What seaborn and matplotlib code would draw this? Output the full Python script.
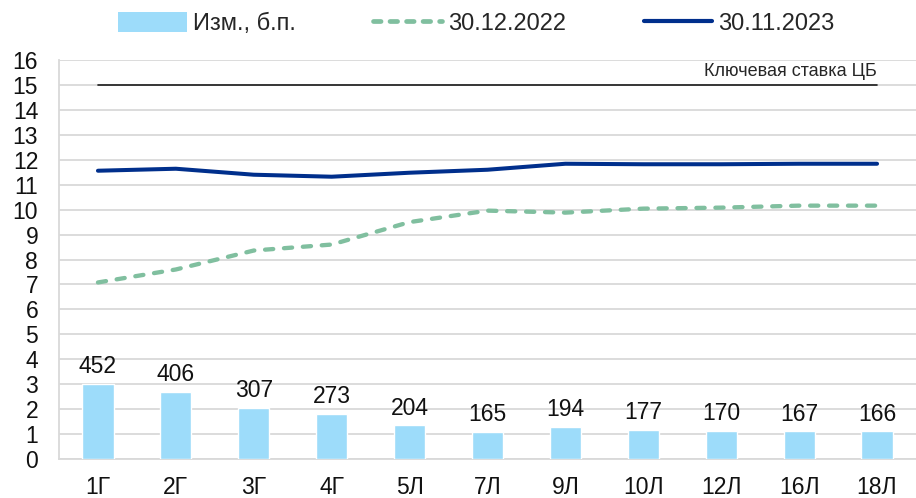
import numpy as np
import pandas as pd
import matplotlib
matplotlib.use("Agg")
import matplotlib.pyplot as plt
from matplotlib.patches import Patch
from matplotlib.lines import Line2D
import seaborn as sns

# Tenors along the curve
tenors = ["1Г", "2Г", "3Г", "4Г", "5Л", "7Л", "9Л", "10Л", "12Л", "16Л", "18Л"]
# Yield curve, % (end of 2022 and end of November 2023)
curve_2022 = [7.08, 7.60, 8.36, 8.60, 9.50, 9.96, 9.88, 10.04, 10.08, 10.16, 10.16]
curve_2023 = [11.56, 11.64, 11.40, 11.32, 11.48, 11.60, 11.84, 11.82, 11.82, 11.84, 11.84]
# Change, basis points
change_bp = [452, 406, 307, 273, 204, 165, 194, 177, 170, 167, 166]
# CBR key rate, %
key_rate = 15.0

legend_labels = ["Изм., б.п.", "30.12.2022", "30.11.2023"]
key_rate_label = "Ключевая ставка ЦБ"

BAR = "#9DDCFA"
GREEN = "#80BF9F"
NAVY = "#002F8C"
GRID = "#D9D9D9"

sns.set_theme(style="white")
plt.rcParams["font.family"] = ["Liberation Sans", "DejaVu Sans"]

df = pd.DataFrame({
    "pos": np.arange(len(tenors)),
    "tenor": tenors,
    "y2022": curve_2022,
    "y2023": curve_2023,
    "bp": change_bp,
    "key": [key_rate] * len(tenors),
})

fig = plt.figure(figsize=(9.16, 4.98), dpi=100)
ax = fig.add_axes([0.0644, 0.0783, 0.9356, 0.8012])
ax2 = ax.twinx()

# Bars on a hidden secondary scale
sns.barplot(data=df, x="pos", y="bp", ax=ax2, color=BAR, saturation=1,
            width=0.4, zorder=2)
ax2.set_ylim(0, 2400)
ax2.bar_label(ax2.containers[0], labels=[str(v) for v in change_bp],
              fontsize=16.5, padding=4, color="#111111")
ax2.set_yticks([])
ax2.set_ylabel("")
ax2.set_xlabel("")
for s in ax2.spines.values():
    s.set_visible(False)

# Curves and key rate on the primary scale
sns.lineplot(data=df, x="pos", y="key", ax=ax, color="#1A1A1A", lw=1.2, zorder=3)
sns.lineplot(data=df, x="pos", y="y2022", ax=ax, color=GREEN, lw=3.1, zorder=3,
             dashes=False)
ax.lines[-1].set_linestyle((0, (1.9, 2.5)))
ax.lines[-1].set_dash_capstyle("round")
sns.lineplot(data=df, x="pos", y="y2023", ax=ax, color=NAVY, lw=2.9, zorder=3)
ax.lines[-1].set_solid_capstyle("round")

ax.text(len(tenors) - 1, key_rate + 0.18, key_rate_label, ha="right",
        va="bottom", fontsize=13, color="#262626")

ax.set_ylim(0, 16)
ax.set_yticks(range(0, 17))
ax.set_xlim(-0.5, len(tenors) - 0.5)
ax2.set_xlim(-0.5, len(tenors) - 0.5)
ax.set_xticks(df["pos"])
ax.set_xticklabels(tenors)
ax.set_xticks(np.arange(0.5, len(tenors) - 0.5), minor=True)
ax.tick_params(axis="x", which="major", length=0, pad=12, labelsize=16.5,
               labelcolor="#111111")
ax.tick_params(axis="x", which="minor", length=5, width=1, color="#BFBFBF",
               direction="out")
ax.tick_params(axis="y", length=0, pad=15, labelsize=16.5, labelcolor="#111111")
ax.set_xlabel("")
ax.set_ylabel("")
ax.grid(axis="y", color=GRID, lw=1.3)
ax.grid(axis="x", visible=False)
ax.set_axisbelow(True)
for side in ["top", "right"]:
    ax.spines[side].set_visible(False)
for side in ["left", "bottom"]:
    ax.spines[side].set_color(GRID)
    ax.spines[side].set_linewidth(1.3)

handles = [
    Patch(facecolor=BAR, edgecolor="none"),
    Line2D([], [], color=GREEN, lw=3.4, linestyle=(0, (1.6, 1.9)),
           dash_capstyle="round"),
    Line2D([], [], color=NAVY, lw=3),
]
fig.legend(handles, legend_labels, loc="center", bbox_to_anchor=(0.52, 0.952),
           ncol=3, frameon=False, fontsize=17, handlelength=2.9,
           handletextpad=0.25, columnspacing=3.3, handleheight=0.9)

fig.savefig("out.png", dpi=100)
